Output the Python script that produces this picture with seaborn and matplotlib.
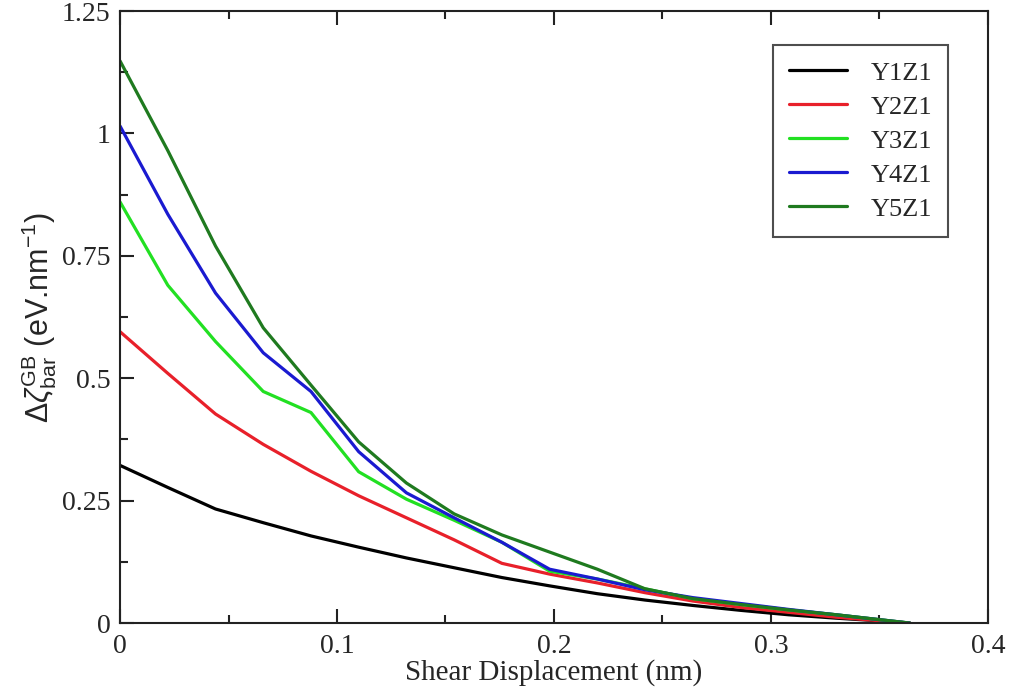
import matplotlib
matplotlib.use("Agg")
import matplotlib.pyplot as plt
import seaborn as sns
import pandas as pd
from matplotlib.ticker import MultipleLocator

# Data
x_nm = [0.0, 0.022, 0.044, 0.066, 0.088, 0.110, 0.132, 0.154, 0.176,
        0.198, 0.220, 0.242, 0.264, 0.286, 0.308, 0.330, 0.352, 0.364]
y1z1 = [0.322, 0.277, 0.233, 0.205, 0.178, 0.155, 0.133, 0.113, 0.093,
        0.076, 0.060, 0.047, 0.036, 0.026, 0.017, 0.010, 0.004, 0.0]
y2z1 = [0.595, 0.51, 0.427, 0.365, 0.31, 0.26, 0.215, 0.17, 0.122,
        0.10, 0.082, 0.062, 0.045, 0.032, 0.022, 0.012, 0.004, 0.0]
y3z1 = [0.86, 0.69, 0.575, 0.473, 0.43, 0.309, 0.253, 0.21, 0.165,
        0.106, 0.09, 0.07, 0.05, 0.038, 0.027, 0.017, 0.006, 0.0]
y4z1 = [1.015, 0.835, 0.674, 0.552, 0.473, 0.35, 0.266, 0.215, 0.165,
        0.11, 0.09, 0.068, 0.052, 0.04, 0.028, 0.017, 0.006, 0.0]
y5z1 = [1.148, 0.965, 0.77, 0.603, 0.486, 0.37, 0.286, 0.223, 0.18,
        0.145, 0.11, 0.07, 0.05, 0.038, 0.027, 0.017, 0.006, 0.0]
series_names = ["Y1Z1", "Y2Z1", "Y3Z1", "Y4Z1", "Y5Z1"]
series_colors = ["#000000", "#e8202a", "#22e022", "#1a1ad0", "#1f7a1f"]

frames = []
for name, vals in zip(series_names, [y1z1, y2z1, y3z1, y4z1, y5z1]):
    frames.append(pd.DataFrame({"x": x_nm, "y": vals, "series": name}))
df = pd.concat(frames, ignore_index=True)

sns.set_theme(style="white")
plt.rcParams["font.family"] = ["Liberation Serif", "DejaVu Serif"]
plt.rcParams["mathtext.fontset"] = "custom"
plt.rcParams["mathtext.rm"] = "Liberation Sans"
plt.rcParams["mathtext.it"] = "Liberation Sans:italic"
plt.rcParams["mathtext.sf"] = "Liberation Sans"

fig = plt.figure(figsize=(10.09, 6.90), dpi=100)
ax = fig.add_axes([0.119, 0.097, 0.860, 0.887])

sns.lineplot(data=df, x="x", y="y", hue="series", palette=dict(zip(series_names, series_colors)),
             hue_order=series_names, linewidth=2.3, ax=ax, sort=False)

ax.set_xlim(0, 0.4)
ax.set_ylim(0, 1.25)
ax.xaxis.set_major_locator(MultipleLocator(0.1))
ax.xaxis.set_minor_locator(MultipleLocator(0.05))
ax.yaxis.set_major_locator(MultipleLocator(0.25))
ax.yaxis.set_minor_locator(MultipleLocator(0.125))
ax.set_xticks([0, 0.1, 0.2, 0.3, 0.4])
ax.set_xticklabels(["0", "0.1", "0.2", "0.3", "0.4"])
ax.set_yticks([0, 0.25, 0.5, 0.75, 1.0, 1.25])
ax.set_yticklabels(["0", "0.25", "0.5", "0.75", "1", "1.25"])

ax.tick_params(axis="both", which="major", direction="in", length=10, width=1.5,
               labelsize=20, color="#222222", top=True, right=False, left=True, bottom=True)
ax.tick_params(axis="x", which="major", pad=8)
ax.tick_params(axis="y", which="major", pad=7)
ax.tick_params(axis="both", which="minor", direction="in", length=6, width=1.5,
               color="#222222", top=True, right=False, left=True, bottom=True)
for s in ax.spines.values():
    s.set_linewidth(1.5)
    s.set_color("#222222")

ax.set_xlabel("Shear Displacement (nm)", fontsize=21, labelpad=0)
ax.set_ylabel(r"$\Delta\zeta^{\mathrm{GB}}_{\mathrm{bar}}$ (eV.nm$^{-1}$)", fontsize=22,
              family="Liberation Sans", labelpad=2)

leg = ax.legend(title=None, loc="upper right", bbox_to_anchor=(0.954, 0.944),
                borderaxespad=0, fontsize=19, frameon=True, fancybox=False, handlelength=2.2,
                handletextpad=0.9, labelspacing=0.40, borderpad=0.6)
leg.get_frame().set_edgecolor("#222222")
leg.get_frame().set_linewidth(1.5)
for h in leg.get_lines():
    h.set_linewidth(2.3)

fig.savefig("out.png", dpi=100)
